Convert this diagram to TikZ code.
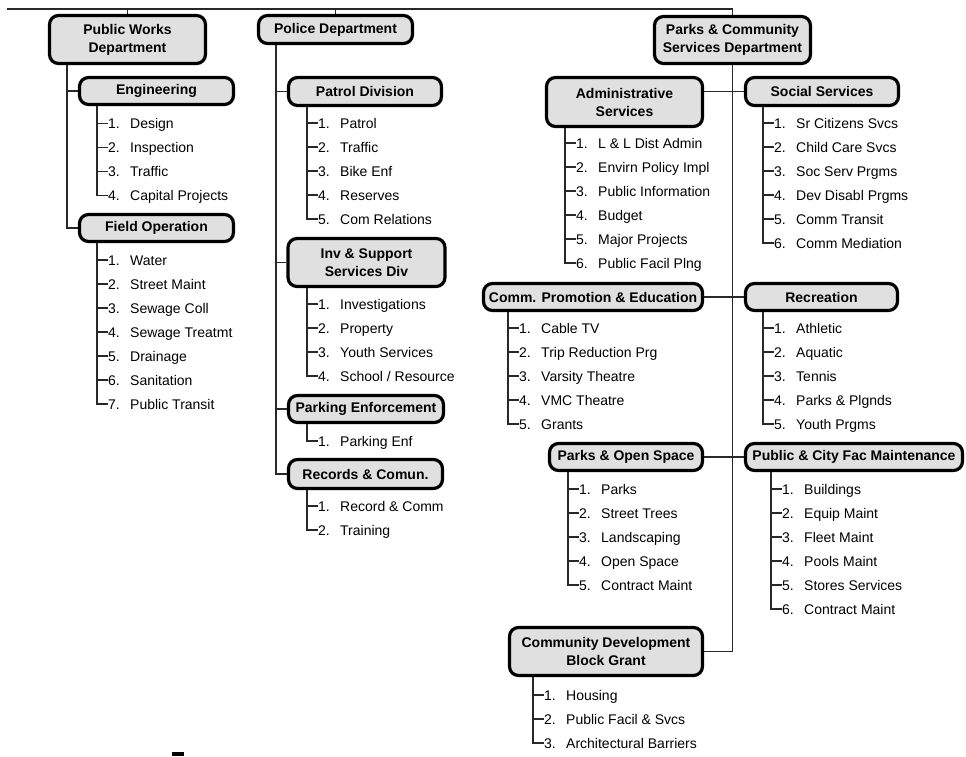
\documentclass[tikz,border=0pt]{standalone}
\usepackage{fontspec}
\setmainfont{Liberation Sans}
\usepackage{tikz}
\definecolor{boxgray}{RGB}{224,224,224}
\definecolor{linegray}{RGB}{40,40,40}
\newcommand{\sublist}[4]{%
  \coordinate (#1sp) at (#2,#3);
  \foreach \lbl [count=\idx] in {#4} {
    \node[entry] (#1\idx) at (#2+11,#3+24*\idx-24) {\makebox[22pt][l]{\idx.}\lbl};
    \draw[link] (#1.south -| #1sp) |- (#1\idx.west);
  }%
}

\begin{document}
\begin{tikzpicture}[x=1pt,y=-1pt,
    unit/.style={draw=black, line width=3.2pt, fill=boxgray, rounded corners=9pt, inner sep=0pt,
      align=center, font=\bfseries\fontsize{14}{18}\selectfont},
    entry/.style={anchor=west, inner sep=0pt, text height=10pt, text depth=0pt,
      font=\fontsize{14}{17}\selectfont},
    link/.style={draw=linegray, line width=1.5pt}]
  \useasboundingbox (0,0) rectangle (966,756);

  \node[unit, minimum width=156pt, minimum height=48pt] (pw) at (127.5,39.5) {Public Works\\Department};
  \node[unit, minimum width=154pt, minimum height=28pt] (pol) at (335.5,29.5) {Police Department};
  \node[unit, minimum width=156pt, minimum height=47pt] (pcs) at (732.5,40) {Parks \& Community\\Services Department};

  \node[unit, minimum width=154pt, minimum height=27pt] (eng) at (156.5,91) {Engineering};
  \node[unit, minimum width=154pt, minimum height=27pt] (fop) at (156.5,228) {Field Operation};

  \node[unit, minimum width=153pt, minimum height=28pt] (pat) at (365,91.5) {Patrol Division};
  \node[unit, minimum width=157pt, minimum height=48pt] (inv) at (366.5,262.5) {Inv \& Support\\Services Div};
  \node[unit, minimum width=155pt, minimum height=27pt] (park) at (366,409) {Parking Enforcement};
  \node[unit, minimum width=154pt, minimum height=29pt] (rec) at (365.5,474) {Records \& Comun.};

  \node[unit, minimum width=156pt, minimum height=49pt] (adm) at (624.5,102) {Administrative\\Services};
  \node[unit, minimum width=153pt, minimum height=28pt] (soc) at (822,91.5) {Social Services};
  \node[unit, minimum width=219pt, minimum height=27pt] (cpe) at (593,297) {Comm. Promotion \& Education};
  \node[unit, minimum width=152pt, minimum height=27pt] (recr) at (821.5,297) {Recreation};
  \node[unit, minimum width=153pt, minimum height=27pt] (pos) at (626,457) {Parks \& Open Space};
  \node[unit, minimum width=217pt, minimum height=27pt] (pcf) at (854,457) {Public \& City Fac Maintenance};
  \node[unit, minimum width=193pt, minimum height=48pt] (cdbg) at (606,651.5) {Community Development\\Block Grant};

  \coordinate (topL) at (7,9);
  \draw[link] (topL) -| (pcs.north);
  \draw[link] (pw.north) -- (pw.north |- topL);
  \draw[link] (pol.north) -- (pol.north |- topL);

  \coordinate (pwsp) at (67,0);
  \draw[link] (pw.south -| pwsp) |- (fop.west);
  \draw[link] (eng.west) -- (eng.west -| pwsp);

  \coordinate (polsp) at (276,0);
  \draw[link] (pol.south -| polsp) |- (rec.west);
  \foreach \n in {pat,inv,park}
    \draw[link] (\n.west) -- (\n.west -| polsp);

  \draw[link] (pcs.south) |- (cdbg.east);
  \draw[link] (adm.east |- soc.west) -- (soc.west);
  \draw[link] (cpe.east) -- (recr.west);
  \draw[link] (pos.east) -- (pcf.west);

  \sublist{eng}{97}{123.5}{Design, Inspection, Traffic, Capital Projects}
  \sublist{fop}{97}{260}{Water, Street Maint, Sewage Coll, Sewage Treatmt, Drainage, Sanitation, Public Transit}
  \sublist{pat}{307}{123}{Patrol, Traffic, Bike Enf, Reserves, Com Relations}
  \sublist{inv}{307}{304}{Investigations, Property, Youth Services, School / Resource}
  \sublist{park}{307}{441}{Parking Enf}
  \sublist{rec}{307}{506}{Record \& Comm, Training}
  \sublist{adm}{565}{143}{L \& L Dist Admin, Envirn Policy Impl, Public Information, Budget, Major Projects, Public Facil Plng}
  \sublist{soc}{763}{123}{Sr Citizens Svcs, Child Care Svcs, Soc Serv Prgms, Dev Disabl Prgms, Comm Transit, Comm Mediation}
  \sublist{cpe}{508}{328}{Cable TV, Trip Reduction Prg, Varsity Theatre, VMC Theatre, Grants}
  \sublist{recr}{763}{328}{Athletic, Aquatic, Tennis, Parks \& Plgnds, Youth Prgms}
  \sublist{pos}{568}{489}{Parks, Street Trees, Landscaping, Open Space, Contract Maint}
  \sublist{pcf}{771}{489}{Buildings, Equip Maint, Fleet Maint, Pools Maint, Stores Services, Contract Maint}
  \sublist{cdbg}{533}{695}{Housing, Public Facil \& Svcs, Architectural Barriers}

  \fill (172,752) rectangle (184,756);
\end{tikzpicture}
\end{document}
